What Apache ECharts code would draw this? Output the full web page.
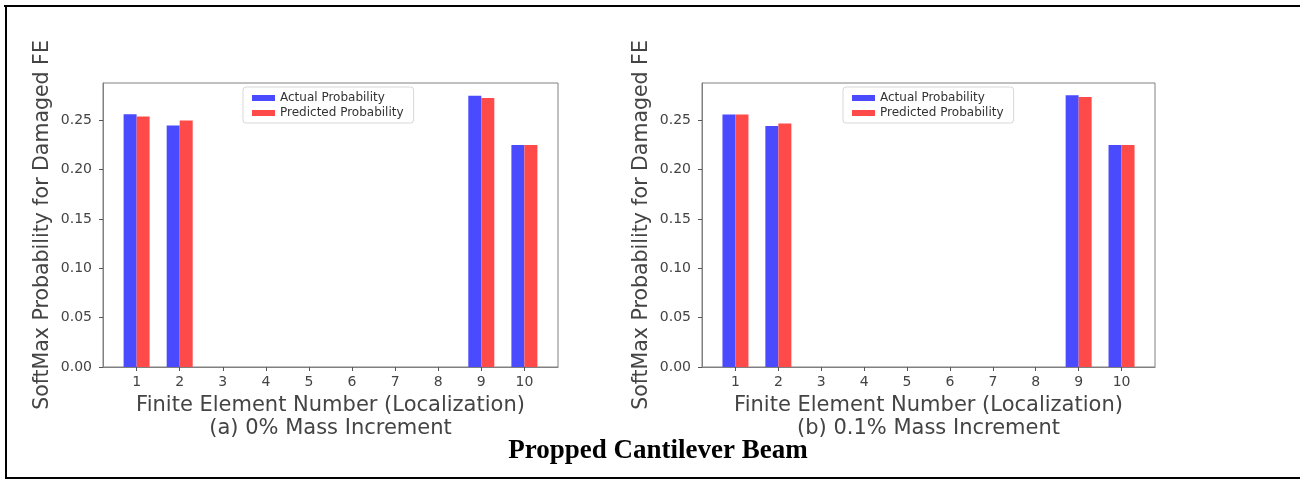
<!DOCTYPE html>
<html>
<head>
<meta charset="utf-8">
<script src="https://cdn.jsdelivr.net/npm/echarts@6/dist/echarts.min.js"></script>
<style>
html,body{margin:0;padding:0;background:#fff;}
#chart{width:1300px;height:480px;}
</style>
</head>
<body>
<div id="chart"></div>
<script>
// ---- data ----
var elements = [1, 2, 3, 4, 5, 6, 7, 8, 9, 10];
var actualA = [0.2560, 0.2446, 0, 0, 0, 0, 0, 0, 0.2748, 0.2248];
var predictedA = [0.2538, 0.2497, 0, 0, 0, 0, 0, 0, 0.2724, 0.2248];
var actualB = [0.2557, 0.2442, 0, 0, 0, 0, 0, 0, 0.2752, 0.2248];
var predictedB = [0.2557, 0.2466, 0, 0, 0, 0, 0, 0, 0.2735, 0.2248];
var yTicks = [0, 0.05, 0.10, 0.15, 0.20, 0.25];
var seriesNames = ['Actual Probability', 'Predicted Probability'];
var subTitles = ['(a) 0% Mass Increment', '(b) 0.1% Mass Increment'];
var xAxisTitle = 'Finite Element Number (Localization)';
var yAxisTitle = 'SoftMax Probability for Damaged FE';
var mainTitle = 'Propped Cantilever Beam';

function pairs(vals) { return elements.map(function (e, i) { return [e, vals[i]]; }); }

var BLUE = '#4a4aff', RED = '#ff4a4a', AXIS = '#808080', TXT = '#444';
var font = 'DejaVu Sans';

function xAx(idx, sub) {
  return {
    type: 'value', gridIndex: idx, min: 0.22, max: 10.78,
    name: xAxisTitle + '\n' + sub, nameLocation: 'middle', nameGap: 26,
    nameTextStyle: { fontFamily: font, fontSize: 21, color: TXT, lineHeight: 23 },
    axisLine: { show: true, lineStyle: { color: AXIS, width: 1 } },
    axisTick: { show: true, length: 4, lineStyle: { color: '#555' }, customValues: elements },
    axisLabel: { customValues: elements, margin: 8, fontFamily: font, fontSize: 14, color: TXT },
    splitLine: { show: false }
  };
}
function yAx(idx) {
  return {
    type: 'value', gridIndex: idx, min: 0, max: 0.2877,
    name: yAxisTitle, nameLocation: 'middle', nameGap: 50, nameRotate: 90,
    nameTextStyle: { fontFamily: font, fontSize: 20.5, color: TXT },
    axisLine: { show: true, lineStyle: { color: AXIS, width: 1 } },
    axisTick: { show: true, length: 4, lineStyle: { color: '#555' }, customValues: yTicks },
    axisLabel: { customValues: yTicks, margin: 11, fontFamily: font, fontSize: 14, color: TXT,
      formatter: function (v) { return v.toFixed(2); } },
    splitLine: { show: false }
  };
}
function legend(left) {
  return {
    left: left, top: 87, orient: 'vertical', data: seriesNames,
    itemWidth: 23, itemHeight: 6, itemGap: 3, icon: 'rect',
    padding: [5, 10, 4, 9], borderColor: '#d8d8d8', borderWidth: 1, borderRadius: 3,
    backgroundColor: '#fff',
    textStyle: { fontFamily: font, fontSize: 12, color: '#333' },
    selectedMode: false
  };
}
function bar(name, data, xi, color) {
  return { name: name, type: 'bar', xAxisIndex: xi, yAxisIndex: xi, data: pairs(data),
    barWidth: 13, barGap: '0%', itemStyle: { color: color }, animation: false, silent: true };
}

var chart = echarts.init(document.getElementById('chart'), null, { renderer: 'canvas' });
chart.setOption({
  animation: false,
  backgroundColor: '#fff',
  grid: [
    { left: 103, top: 83, width: 455, height: 284, show: true, borderColor: AXIS, borderWidth: 1, containLabel: false },
    { left: 702, top: 83, width: 453, height: 284, show: true, borderColor: AXIS, borderWidth: 1, containLabel: false }
  ],
  xAxis: [xAx(0, subTitles[0]), xAx(1, subTitles[1])],
  yAxis: [yAx(0), yAx(1)],
  legend: [legend(243), legend(843)],
  series: [
    bar(seriesNames[0], actualA, 0, BLUE),
    bar(seriesNames[1], predictedA, 0, RED),
    bar(seriesNames[0], actualB, 1, BLUE),
    bar(seriesNames[1], predictedB, 1, RED)
  ],
  graphic: [
    { type: 'line', shape: { x1: 4, y1: 6, x2: 1300, y2: 6 }, style: { stroke: '#000', lineWidth: 2 }, silent: true },
    { type: 'line', shape: { x1: 6, y1: 5, x2: 6, y2: 479 }, style: { stroke: '#000', lineWidth: 2 }, silent: true },
    { type: 'line', shape: { x1: 5, y1: 478, x2: 1300, y2: 478 }, style: { stroke: '#000', lineWidth: 2 }, silent: true },
    { type: 'text', x: 658, y: 451, silent: true,
      style: { text: mainTitle, align: 'center', verticalAlign: 'middle',
        font: 'bold 27px "Liberation Serif"', fill: '#000' } }
  ]
});
</script>
</body>
</html>
